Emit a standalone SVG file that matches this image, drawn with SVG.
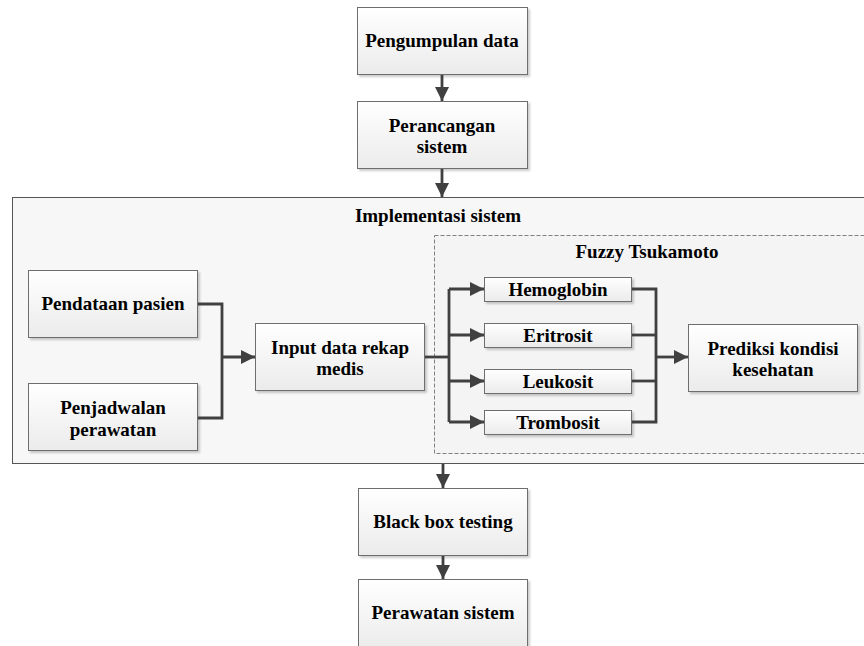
<svg xmlns="http://www.w3.org/2000/svg" width="864" height="646" viewBox="0 0 864 646">
<defs>
<linearGradient id="g" x1="0" y1="0" x2="0" y2="1">
<stop offset="0" stop-color="#ffffff"/>
<stop offset="1" stop-color="#ebebeb"/>
</linearGradient>
<marker id="ah" markerWidth="5" markerHeight="5" refX="5" refY="2.5" orient="auto" markerUnits="strokeWidth">
<path d="M0,0 L5,2.5 L0,5 Z" fill="#404040"/>
</marker>
<filter id="sh" x="-5%" y="-5%" width="115%" height="120%">
<feDropShadow dx="2" dy="2" stdDeviation="1" flood-color="#000" flood-opacity="0.2"/>
</filter>
</defs>
<style>
.box{fill:url(#g);stroke:#6e6e6e;stroke-width:1;filter:url(#sh)}
.t{font-family:"Liberation Serif","Times New Roman",serif;font-weight:bold;font-size:19px;fill:#000;text-anchor:middle}
.c{fill:none;stroke:#404040;stroke-width:2.8}
</style>
<rect width="864" height="646" fill="#fff"/>
<g id="implementasi">
<rect x="12.5" y="197.5" width="856" height="266" fill="#f7f7f7" stroke="#555" stroke-width="1"/>
<text class="t" x="438" y="222">Implementasi sistem</text>
</g>
<g id="fuzzy">
<rect x="434.5" y="235.5" width="434" height="218" fill="#f4f4f4" stroke="#808080" stroke-width="1" stroke-dasharray="4,2"/>
<text class="t" x="647" y="258">Fuzzy Tsukamoto</text>
</g>
<g id="pengumpulan">
<rect class="box" x="357.5" y="7.5" width="170" height="67"/>
<text class="t" x="442" y="47">Pengumpulan data</text>
</g>
<g id="perancangan">
<rect class="box" x="357.5" y="101.5" width="170" height="67"/>
<text class="t" x="442" y="132">Perancangan</text>
<text class="t" x="442" y="153">sistem</text>
</g>
<g id="pendataan">
<rect class="box" x="28.5" y="270.5" width="169" height="67"/>
<text class="t" x="113" y="310">Pendataan pasien</text>
</g>
<g id="penjadwalan">
<rect class="box" x="28.5" y="383.5" width="169" height="67"/>
<text class="t" x="113" y="414">Penjadwalan</text>
<text class="t" x="113" y="436">perawatan</text>
</g>
<g id="input">
<rect class="box" x="255.5" y="323.5" width="169" height="67"/>
<text class="t" x="340" y="354">Input data rekap</text>
<text class="t" x="340" y="375">medis</text>
</g>
<g id="hemoglobin">
<rect class="box" x="484.5" y="277.5" width="147" height="24"/>
<text class="t" x="558" y="296">Hemoglobin</text>
</g>
<g id="eritrosit">
<rect class="box" x="484.5" y="323.5" width="147" height="24"/>
<text class="t" x="558" y="342">Eritrosit</text>
</g>
<g id="leukosit">
<rect class="box" x="484.5" y="369.5" width="147" height="24"/>
<text class="t" x="558" y="388">Leukosit</text>
</g>
<g id="trombosit">
<rect class="box" x="484.5" y="410.5" width="147" height="24"/>
<text class="t" x="558" y="429">Trombosit</text>
</g>
<g id="prediksi">
<rect class="box" x="688.5" y="324.5" width="169" height="67"/>
<text class="t" x="773" y="355">Prediksi kondisi</text>
<text class="t" x="773" y="376">kesehatan</text>
</g>
<g id="blackbox">
<rect class="box" x="358.5" y="488.5" width="169" height="67"/>
<text class="t" x="443" y="528">Black box testing</text>
</g>
<g id="perawatan">
<rect class="box" x="358.5" y="579.5" width="169" height="70"/>
<text class="t" x="443" y="619">Perawatan sistem</text>
</g>
<g id="connectors">
<path class="c" d="M442,75 V101" marker-end="url(#ah)"/>
<path class="c" d="M442,169 V197" marker-end="url(#ah)"/>
<path class="c" d="M443,464 V488" marker-end="url(#ah)"/>
<path class="c" d="M443,556 V579" marker-end="url(#ah)"/>
<path class="c" d="M198,304 H222 V418 H198"/>
<path class="c" d="M222,357 H255" marker-end="url(#ah)"/>
<path class="c" d="M425,357 H449"/>
<path class="c" d="M449,289 V422"/>
<path class="c" d="M449,289 H484" marker-end="url(#ah)"/>
<path class="c" d="M449,335 H484" marker-end="url(#ah)"/>
<path class="c" d="M449,381 H484" marker-end="url(#ah)"/>
<path class="c" d="M449,422 H484" marker-end="url(#ah)"/>
<path class="c" d="M632,289 H656 V422 H632"/>
<path class="c" d="M632,335 H656"/>
<path class="c" d="M632,381 H656"/>
<path class="c" d="M656,357 H688" marker-end="url(#ah)"/>
</g>
</svg>
